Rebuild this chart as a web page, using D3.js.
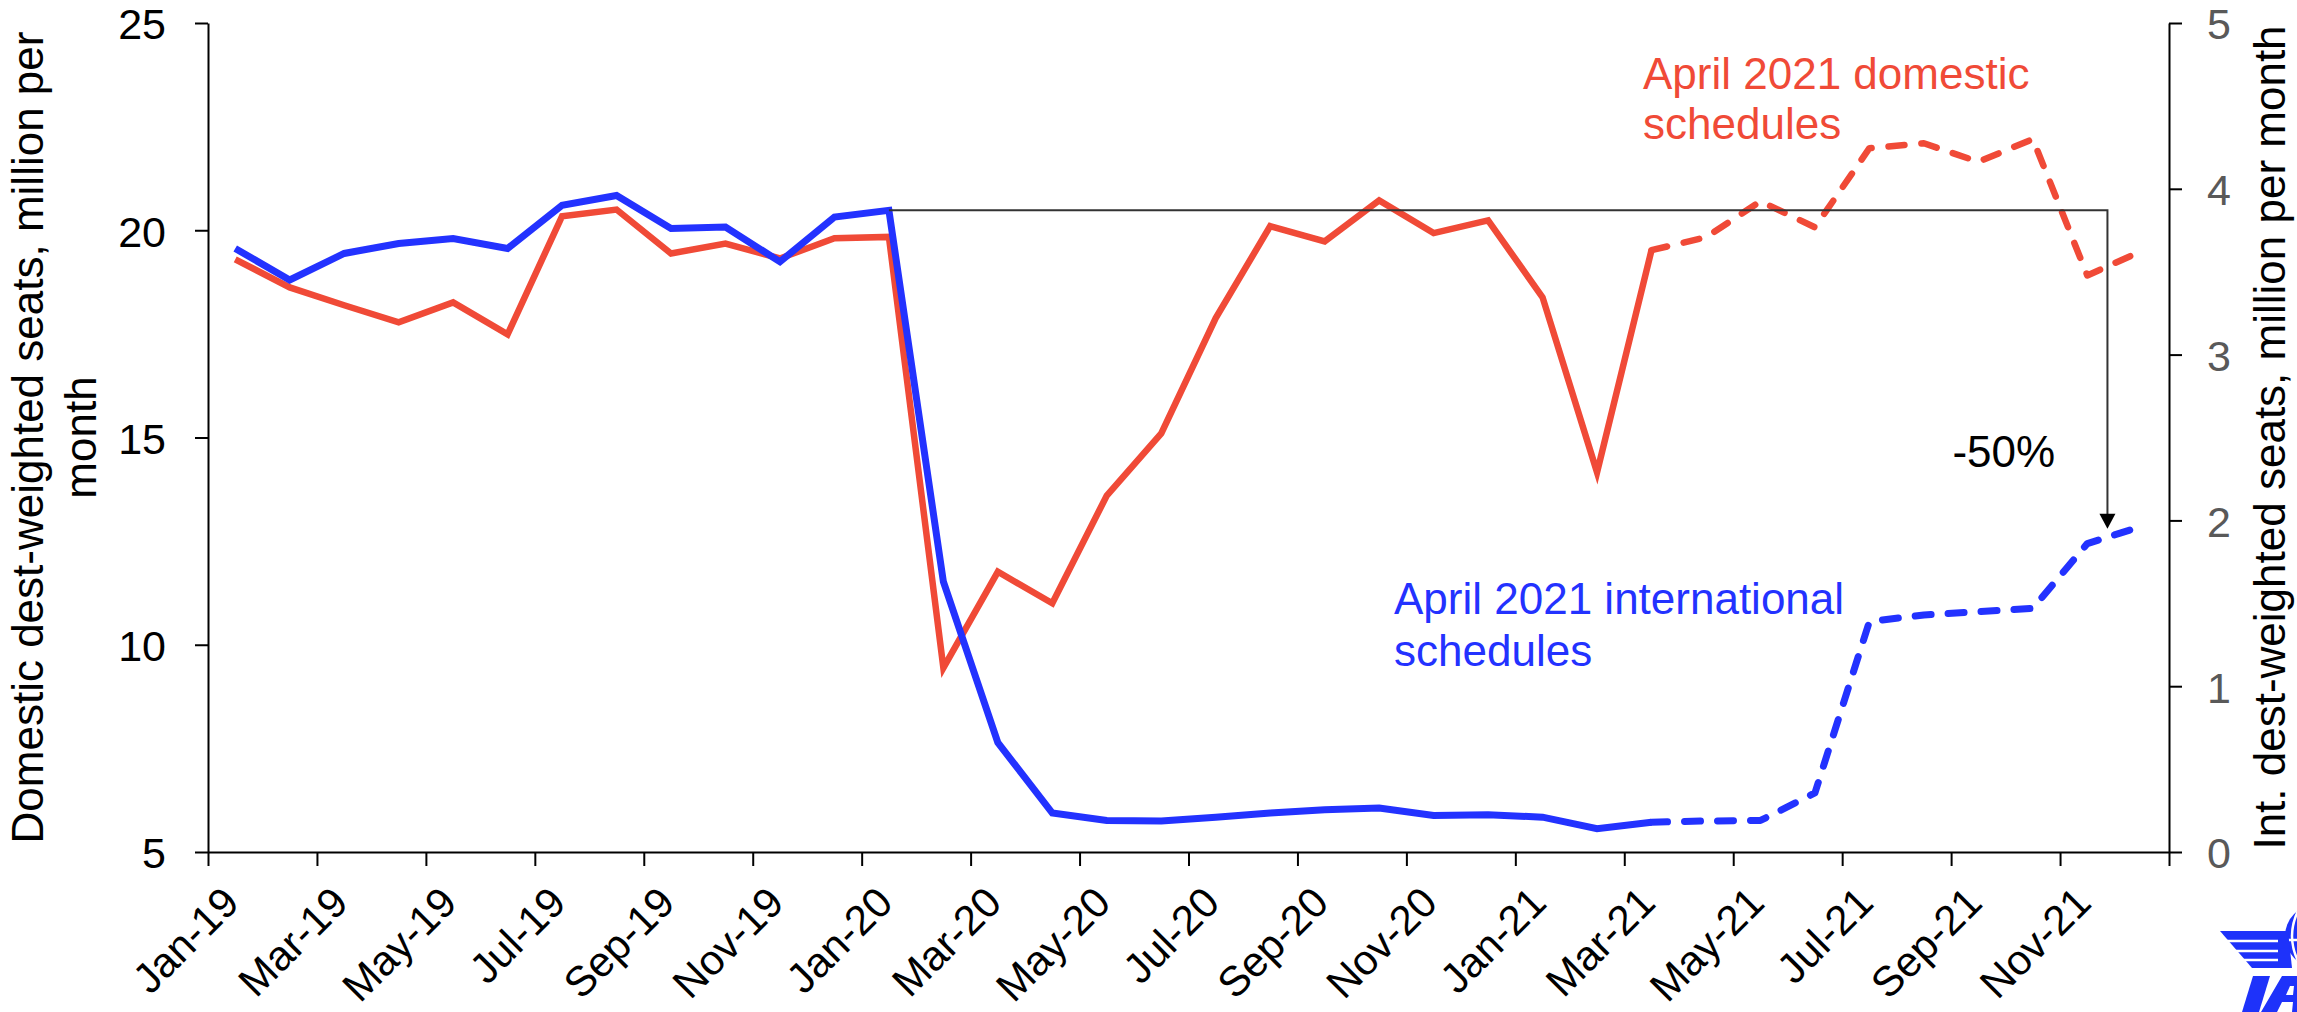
<!DOCTYPE html>
<html>
<head>
<meta charset="utf-8">
<script src="https://cdn.jsdelivr.net/npm/d3@7"></script>
<style>
  html, body { margin: 0; padding: 0; background: #fff; }
  svg { display: block; }
  text { font-family: "Liberation Sans", Arial, Helvetica, sans-serif; }
</style>
</head>
<body>
<svg id="chart" width="2297" height="1012"></svg>
<script>
// Monthly categories, Jan-2019 to Dec-2021
const months = [
  "Jan-19","Feb-19","Mar-19","Apr-19","May-19","Jun-19","Jul-19","Aug-19","Sep-19","Oct-19","Nov-19","Dec-19",
  "Jan-20","Feb-20","Mar-20","Apr-20","May-20","Jun-20","Jul-20","Aug-20","Sep-20","Oct-20","Nov-20","Dec-20",
  "Jan-21","Feb-21","Mar-21","Apr-21","May-21","Jun-21","Jul-21","Aug-21","Sep-21","Oct-21","Nov-21","Dec-21"
];

// Domestic destination-weighted seats, million per month (left axis)
const domestic = [
  19.30, 18.62, 18.19, 17.78, 18.26, 17.49, 20.34, 20.50, 19.44, 19.68, 19.32, 19.81,
  19.84,  9.44, 11.76, 11.00, 13.60, 15.10, 17.88, 20.10, 19.73, 20.72, 19.93, 20.24,
  18.38, 14.16, 19.52, 19.83, 20.70, 20.07, 21.98, 22.10, 21.65, 22.20, 18.91, 19.50
];

// International destination-weighted seats, million per month (right axis)
const international = [
  3.64, 3.45, 3.61, 3.67, 3.70, 3.64, 3.90, 3.96, 3.76, 3.77, 3.56, 3.83,
  3.87, 1.63, 0.66, 0.235, 0.19, 0.187, 0.21, 0.235, 0.255, 0.265, 0.22, 0.225,
  0.21, 0.14, 0.18, 0.187, 0.19, 0.356, 1.39, 1.43, 1.45, 1.47, 1.86, 1.965
];

// Schedules (dashed) begin at this month
const scheduleStart = "Mar-21";
// Pre-crisis reference month and the level the -50% arrow points to
const referenceMonth = "Jan-20";
const arrowTarget = 1.95;
const changeLabel = "-50%";

const leftTicks = [5, 10, 15, 20, 25];
const rightTicks = [0, 1, 2, 3, 4, 5];
const monthLabels = [
  "Jan-19","Mar-19","May-19","Jul-19","Sep-19","Nov-19",
  "Jan-20","Mar-20","May-20","Jul-20","Sep-20","Nov-20",
  "Jan-21","Mar-21","May-21","Jul-21","Sep-21","Nov-21"
];

const RED = "#F04A37";
const BLUE = "#2332FF";
const FONT = '"Liberation Sans", Arial, Helvetica, sans-serif';

const plot = { left: 208, right: 2169, top: 23, bottom: 852 };
const svg = d3.select("#chart");

const x = d3.scaleBand().domain(months).range([plot.left, plot.right]).padding(0);
const cx = m => x(m) + x.bandwidth() / 2;
const xEdge = d3.scaleLinear().domain([0, months.length]).range([plot.left, plot.right]);
const yL = d3.scaleLinear().domain([5, 25]).range([plot.bottom, plot.top]);
const yR = d3.scaleLinear().domain([0, 5]).range([plot.bottom, plot.top]);

function styleAxis(g, color) {
  g.attr("font-family", FONT).attr("font-size", 43);
  g.selectAll(".domain").attr("stroke", "#000").attr("stroke-width", 2);
  g.selectAll(".tick line").attr("stroke", "#000").attr("stroke-width", 2);
  g.selectAll(".tick text").attr("fill", color).attr("dy", "0.37em");
}

// Left axis
svg.append("g")
  .attr("transform", `translate(${plot.left},0)`)
  .call(d3.axisLeft(yL).tickValues(leftTicks).tickFormat(d3.format("d"))
    .tickSize(13).tickPadding(29).tickSizeOuter(0))
  .call(g => styleAxis(g, "#000"));

// Right axis
svg.append("g")
  .attr("transform", `translate(${plot.right},0)`)
  .call(d3.axisRight(yR).tickValues(rightTicks).tickFormat(d3.format("d"))
    .tickSize(13).tickPadding(25).tickSizeOuter(0))
  .call(g => styleAxis(g, "#595959"));

// Bottom axis: tick marks on category boundaries every two months
svg.append("g")
  .attr("transform", `translate(0,${plot.bottom})`)
  .call(d3.axisBottom(xEdge).tickValues(d3.range(0, months.length + 1, 2))
    .tickSize(14).tickSizeOuter(0).tickFormat(""))
  .call(g => styleAxis(g, "#000"));

// Rotated month labels
svg.append("g")
  .selectAll("text")
  .data(monthLabels)
  .join("text")
  .attr("transform", d => `translate(${cx(d) + 6},905) rotate(-45)`)
  .attr("text-anchor", "end")
  .attr("font-size", 42)
  .attr("fill", "#000")
  .text(d => d);

// Axis titles
const midY = (plot.top + plot.bottom) / 2;
const leftTitle = svg.append("g").attr("font-size", 44).attr("fill", "#000");
leftTitle.append("text")
  .attr("transform", `translate(43,${midY}) rotate(-90)`)
  .attr("text-anchor", "middle")
  .text("Domestic dest-weighted seats, million per");
leftTitle.append("text")
  .attr("transform", `translate(96,${midY}) rotate(-90)`)
  .attr("text-anchor", "middle")
  .text("month");

svg.append("text")
  .attr("transform", `translate(2285,${midY}) rotate(-90)`)
  .attr("text-anchor", "middle")
  .attr("font-size", 44)
  .attr("fill", "#000")
  .text("Int. dest-weighted seats, million per month");

// Series lines: actuals solid, schedules dashed
const split = months.indexOf(scheduleStart);
const domPts = months.map((m, i) => ({ m, v: domestic[i] }));
const intPts = months.map((m, i) => ({ m, v: international[i] }));
const lineL = d3.line().x(d => cx(d.m)).y(d => yL(d.v));
const lineR = d3.line().x(d => cx(d.m)).y(d => yR(d.v));

function drawSeries(pts, line, color, width) {
  svg.append("path")
    .attr("d", line(pts.slice(0, split + 1)))
    .attr("fill", "none").attr("stroke", color).attr("stroke-width", width)
    .attr("stroke-linejoin", "miter").attr("stroke-miterlimit", 10);
  svg.append("path")
    .attr("d", line(pts.slice(split)))
    .attr("fill", "none").attr("stroke", color).attr("stroke-width", width)
    .attr("stroke-linecap", "round").attr("stroke-linejoin", "round")
    .attr("stroke-dasharray", "16,17");
}
drawSeries(domPts, lineL, RED, 6.5);
drawSeries(intPts, lineR, BLUE, 7);

// Reference line at the pre-crisis international level, with drop arrow
const refI = months.indexOf(referenceMonth);
const refY = yR(international[refI]);
const arrowX = x("Nov-21") + x.bandwidth() * 0.87;
const tipY = yR(arrowTarget);
const ann = svg.append("g");
ann.append("path")
  .attr("d", `M${cx(referenceMonth)},${refY}H${arrowX}V${tipY - 14}`)
  .attr("fill", "none").attr("stroke", "#333").attr("stroke-width", 2);
ann.append("path")
  .attr("d", `M${arrowX - 8},${tipY - 15}L${arrowX + 8},${tipY - 15}L${arrowX},${tipY}Z`)
  .attr("fill", "#000");
ann.append("text")
  .attr("x", arrowX - 155).attr("y", 467)
  .attr("font-size", 44).attr("fill", "#000")
  .text(changeLabel);

// Series annotations
const redNote = svg.append("text").attr("font-size", 44).attr("fill", RED);
redNote.append("tspan").attr("x", 1643).attr("y", 89).text("April 2021 domestic");
redNote.append("tspan").attr("x", 1643).attr("y", 139).text("schedules");

const blueNote = svg.append("text").attr("font-size", 44).attr("fill", BLUE);
blueNote.append("tspan").attr("x", 1394).attr("y", 614).text("April 2021 international");
blueNote.append("tspan").attr("x", 1394).attr("y", 666).text("schedules");

// Corner logo mark: globe, wing and lettering shapes
const LOGO = "#1E32FA";
const logo = svg.append("g");
logo.append("circle").attr("cx", 2316).attr("cy", 936).attr("r", 31).attr("fill", LOGO);
logo.append("path")
  .attr("d", "M2300,907 Q2284,936 2300,965")
  .attr("fill", "none").attr("stroke", "#fff").attr("stroke-width", 2.5);
logo.append("path")
  .attr("d", "M2285,940 H2297")
  .attr("stroke", "#fff").attr("stroke-width", 2.5);
logo.append("path")
  .attr("d", "M2220,931 L2288,931 L2292,968 L2252,968 Z")
  .attr("fill", LOGO);
logo.selectAll("line.wing")
  .data([941, 951, 960])
  .join("line")
  .attr("class", "wing")
  .attr("x1", 2215).attr("x2", 2278)
  .attr("y1", d => d).attr("y2", d => d)
  .attr("stroke", "#fff").attr("stroke-width", 2.5);
// letter I
logo.append("path")
  .attr("d", "M2253,976 L2270,976 L2259,1012 L2242,1012 Z")
  .attr("fill", LOGO);
// letter A (left leg and start of crossbar)
logo.append("path")
  .attr("d", "M2282,976 L2300,976 L2300,1012 L2292,1012 L2293,1002 L2282,1002 L2277,1012 L2261,1012 Z")
  .attr("fill", LOGO);
logo.append("path")
  .attr("d", "M2290,986 L2294,986 L2293,995 L2286,995 Z")
  .attr("fill", "#fff");
</script>
</body>
</html>
